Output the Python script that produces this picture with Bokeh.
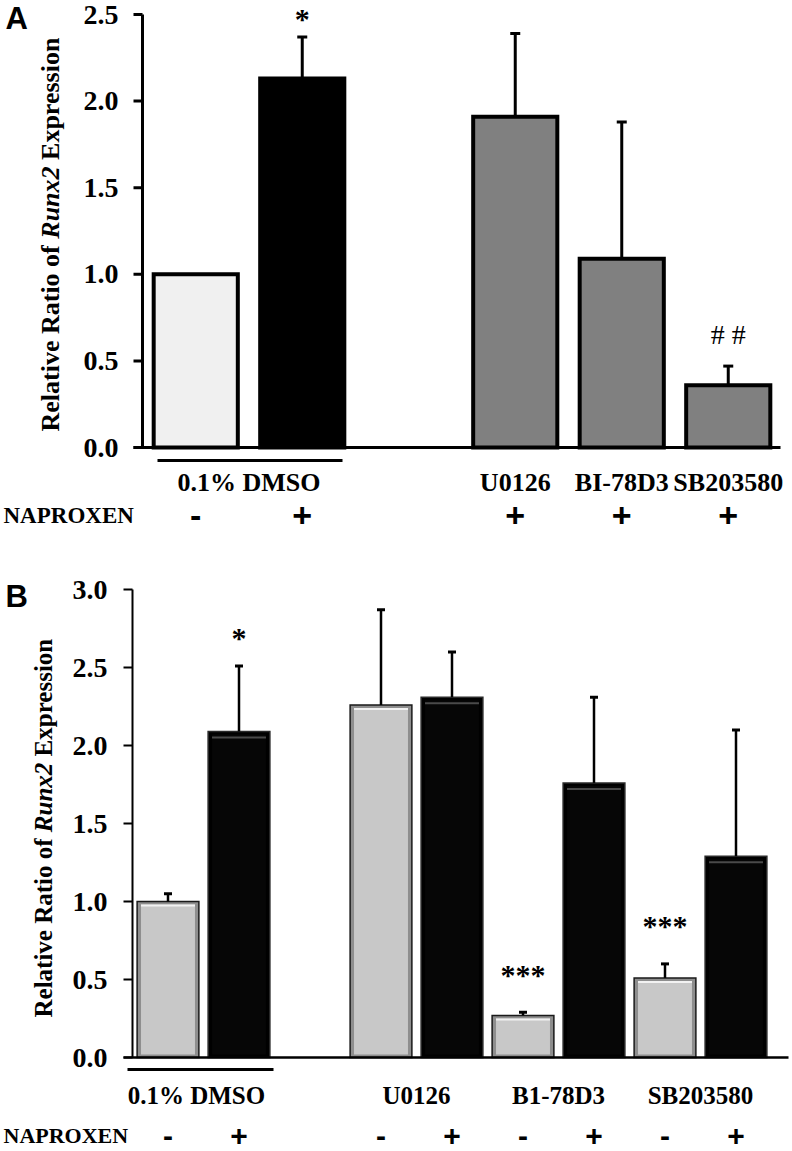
import math
from bokeh.plotting import figure
from bokeh.models import Range1d, ColumnDataSource
from bokeh.layouts import column
from bokeh.embed import file_html
from bokeh.resources import INLINE
from bokeh.core.properties import value

# ---------------- data: panel A ----------------
a_groups = ["0.1% DMSO", "U0126", "BI-78D3", "SB203580"]
a_group_sizes = [2, 1, 1, 1]
a_naproxen = ["-", "+", "+", "+", "+"]
a_means = [1.00, 2.13, 1.91, 1.09, 0.36]
a_err = [0.00, 0.24, 0.48, 0.79, 0.11]
a_colors = ["#f0f0f0", "#000000", "#808080", "#808080", "#808080"]
a_yticks = [0.0, 0.5, 1.0, 1.5, 2.0, 2.5]
a_marks = ["", "*", "", "", "# #"]

# ---------------- data: panel B ----------------
b_groups = ["0.1% DMSO", "U0126", "B1-78D3", "SB203580"]
b_naproxen = ["-", "+"]
b_minus = [1.00, 2.26, 0.27, 0.51]
b_minus_err = [0.05, 0.61, 0.02, 0.09]
b_plus = [2.09, 2.31, 1.76, 1.29]
b_plus_err = [0.42, 0.29, 0.55, 0.81]
b_minus_marks = ["", "", "***", "***"]
b_plus_marks = ["*", "", "", ""]
b_yticks = [0.0, 0.5, 1.0, 1.5, 2.0, 2.5, 3.0]

SERIF = "Liberation Serif"
SANS = "Liberation Sans"
YLABEL = ["Relative Ratio of", "Runx2", "Expression"]
YLABEL_STYLE = ["bold", "bold italic", "bold"]
YLABEL_EM = [7.165, 2.779, 4.723]   # Times-bold advance widths (em)
SPACE_EM = 0.25
W = 792


def make_fig(height, xs, ys):
    p = figure(width=W, height=height, x_range=Range1d(*xs), y_range=Range1d(*ys),
               output_backend="svg", toolbar_location=None,
               x_axis_location=None, y_axis_location=None,
               min_border_left=0, min_border_right=0, min_border_top=0, min_border_bottom=0)
    p.outline_line_color = None
    p.grid.visible = False
    p.background_fill_color = "white"
    p.border_fill_color = "white"
    return p


def txt(p, x, y, t, size, font=SERIF, style="bold", align="center", baseline="middle", angle=0):
    p.text(x=x, y=y, text=t, text_font=value(font), text_font_style=style,
           text_font_size=f"{size}px", text_align=align, text_baseline=baseline,
           text_color="black", angle=angle)


def draw_yaxis(p, ticks, axis_x, px_x, lw, label_gap_px):
    n = len(ticks)
    tl = 9 / px_x
    p.segment(x0=[axis_x], y0=[ticks[0]], x1=[axis_x], y1=[ticks[-1]],
              line_color="black", line_width=lw)
    p.segment(x0=[axis_x - tl] * n, y0=ticks, x1=[axis_x] * n, y1=ticks,
              line_color="black", line_width=lw)
    txt(p, [axis_x - label_gap_px / px_x] * n, ticks, [f"{t:.1f}" for t in ticks], 28,
        align="right")


def draw_ylabel(p, xdata, y_start_px, fs, to_y):
    pos = y_start_px
    for t, st, em in zip(YLABEL, YLABEL_STYLE, YLABEL_EM):
        txt(p, [xdata], [to_y(pos)], [t], fs, style=st, align="left",
            baseline="middle", angle=math.pi / 2)
        pos -= (em + SPACE_EM) * fs


# ================= PANEL A =================  (canvas px == page px)
A_AXIS, A_XPX = 142, 106.5
A_Y0, A_PX = 447, 173.2
A_H = 540


def xa(px):
    return -0.5 + (px - A_AXIS) / A_XPX


def ya(px):
    return (A_Y0 - px) / A_PX


a_x = []
slot = 0
for gi, n in enumerate(a_group_sizes):
    for k in range(n):
        a_x.append(slot)
        slot += 1
    if gi == 0:
        slot += 1
a_gx = []
i = 0
for n in a_group_sizes:
    a_gx.append(sum(a_x[i:i + n]) / n)
    i += n

pA = make_fig(A_H, (xa(0), xa(W)), (ya(A_H), ya(0)))

srcA = ColumnDataSource(dict(x=a_x, top=a_means, color=a_colors))
pA.vbar(x="x", top="top", bottom=0, width=0.79, fill_color="color", line_color="black",
        line_width=4, line_join="miter", source=srcA)

ex, e0, e1 = [], [], []
for x, m, e in zip(a_x, a_means, a_err):
    if e > 0:
        ex.append(x); e0.append(m); e1.append(m + e)
pA.segment(x0=ex, y0=e0, x1=ex, y1=e1, line_color="black", line_width=3)
capA = 5 / A_XPX
pA.segment(x0=[x - capA for x in ex], y0=e1, x1=[x + capA for x in ex], y1=e1,
           line_color="black", line_width=3)

pA.segment(x0=[xa(133)], y0=[0], x1=[xa(780)], y1=[0], line_color="black", line_width=3)
draw_yaxis(pA, a_yticks, -0.5, A_XPX, 3, 24)

for x, m, e, mk in zip(a_x, a_means, a_err, a_marks):
    if mk == "*":
        txt(pA, [x], [m + e + 19 / A_PX], [mk], 30)
    elif mk:
        txt(pA, [x], [m + e + 32 / A_PX], [mk], 28, style="normal")

pA.segment(x0=[xa(157)], y0=[ya(460)], x1=[xa(342)], y1=[ya(460)],
           line_color="black", line_width=3)
txt(pA, a_gx, [ya(482)] * len(a_gx), a_groups, 26)
txt(pA, a_x, [ya(515)] * len(a_x), a_naproxen, 34, font=SANS)
txt(pA, [xa(3)], [ya(515)], ["NAPROXEN"], 23, align="left")
txt(pA, [xa(5)], [ya(17.5)], ["A"], 31, font=SANS, align="left")
draw_ylabel(pA, xa(49.5), 431, 26, ya)

# ================= PANEL B =================
B_TOP = A_H
B_H = 1151 - A_H
B_AXIS, B_XPX = 132, 71.0
B_Y0, B_PX = 1057, 156.0


def xb(px):
    return -0.5 + (px - B_AXIS) / B_XPX


def yb(px):
    return (B_Y0 - px) / B_PX


b_xm, b_xp = [], []
slot = 0
for gi in range(len(b_groups)):
    b_xm.append(slot)
    b_xp.append(slot + 1)
    slot += 2
    if gi == 0:
        slot += 1
b_gx = [(m + p) / 2 for m, p in zip(b_xm, b_xp)]

pB = make_fig(B_H, (xb(0), xb(W)), (yb(B_TOP + B_H), yb(B_TOP)))

W_OUT = 0.87
W_IN = 0.76


def bevel_bars(xs, tops, outer, inner, hilite, hl_off, edge):
    pB.vbar(x=xs, top=tops, bottom=0, width=W_OUT, fill_color=outer, line_color=edge,
            line_width=1.5, line_join="miter")
    pB.vbar(x=xs, top=[t - 3 / B_PX for t in tops], bottom=3 / B_PX, width=W_IN,
            fill_color=inner, line_color=None)
    pB.segment(x0=[x - W_IN / 2 for x in xs], y0=[t - hl_off / B_PX for t in tops],
               x1=[x + W_IN / 2 for x in xs], y1=[t - hl_off / B_PX for t in tops],
               line_color=hilite, line_width=2)


bevel_bars(b_xm, b_minus, "#8e8e8e", "#c8c8c8", "#f2f2f2", 4, "#1a1a1a")
bevel_bars(b_xp, b_plus, "#000000", "#060606", "#4a4a4a", 6, "#2a2a2a")

capB = 4 / B_XPX
for xs, ms, es in [(b_xm, b_minus, b_minus_err), (b_xp, b_plus, b_plus_err)]:
    tops = [m + e for m, e in zip(ms, es)]
    pB.segment(x0=xs, y0=ms, x1=xs, y1=tops, line_color="black", line_width=2.5)
    pB.segment(x0=[x - capB for x in xs], y0=tops, x1=[x + capB for x in xs], y1=tops,
               line_color="black", line_width=3)

pB.segment(x0=[xb(123)], y0=[0], x1=[xb(788)], y1=[0], line_color="black", line_width=2.5)
draw_yaxis(pB, b_yticks, -0.5, B_XPX, 2, 25)

for xs, ms, es, mks in [(b_xm, b_minus, b_minus_err, b_minus_marks),
                        (b_xp, b_plus, b_plus_err, b_plus_marks)]:
    for x, m, e, mk in zip(xs, ms, es, mks):
        if mk:
            off = 28 if mk == "*" else 38
            txt(pB, [x], [m + e + off / B_PX], [mk], 30)

pB.segment(x0=[xb(127)], y0=[yb(1069)], x1=[xb(273)], y1=[yb(1069)],
           line_color="black", line_width=3)
txt(pB, [g - (0.1 if k == 0 else 0) for k, g in enumerate(b_gx)], [yb(1095)] * len(b_gx),
    b_groups, 25)
b_all_x = b_xm + b_xp
b_all_t = [b_naproxen[0]] * len(b_xm) + [b_naproxen[1]] * len(b_xp)
txt(pB, b_all_x, [yb(1135)] * len(b_all_x), b_all_t, 30, font=SANS)
txt(pB, [xb(3)], [yb(1135)], ["NAPROXEN"], 22, align="left")
txt(pB, [xb(5)], [yb(596)], ["B"], 31, font=SANS, align="left")
draw_ylabel(pB, xb(42.5), 1017, 25, yb)

layout = column(pA, pB, spacing=0)
open("out.html", "w").write(file_html(layout, INLINE))
